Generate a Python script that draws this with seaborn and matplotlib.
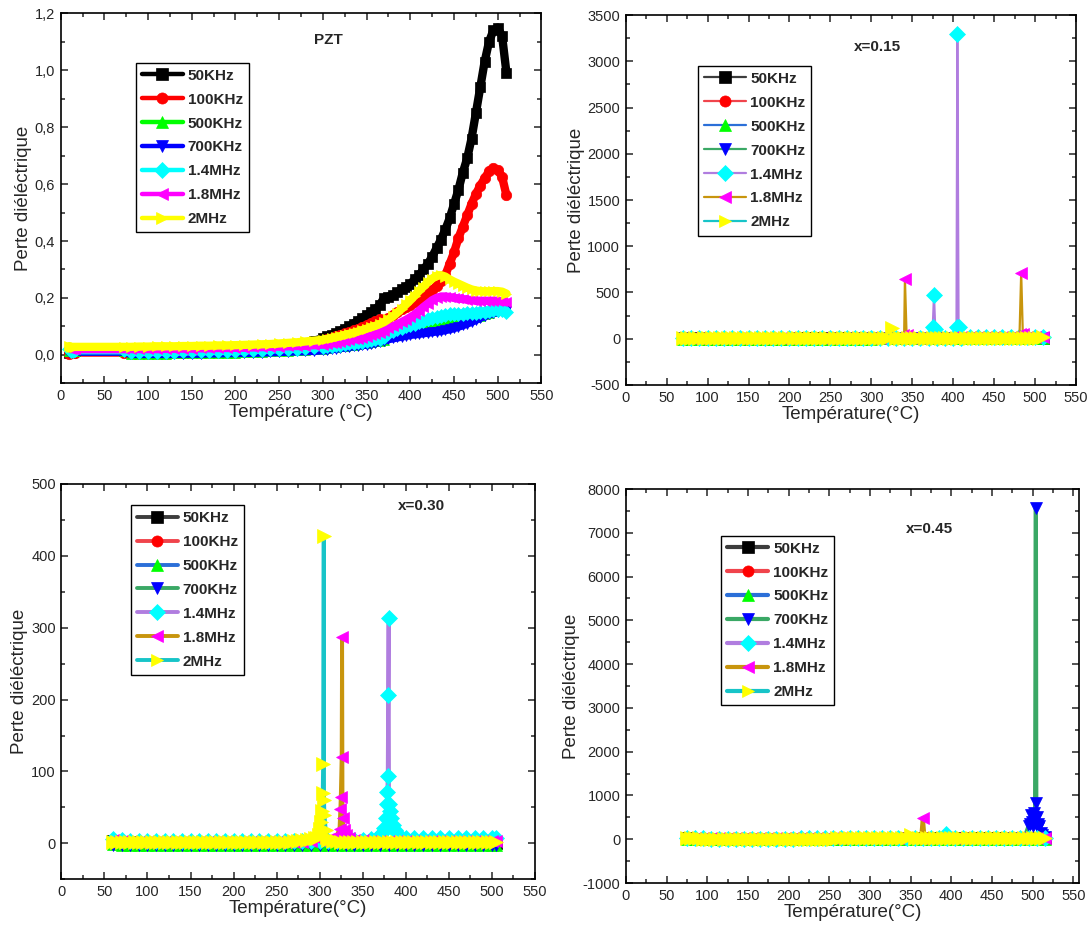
import pandas as pd
import matplotlib
matplotlib.use("Agg")
import matplotlib.pyplot as plt
from matplotlib.ticker import MultipleLocator, FuncFormatter
import seaborn as sns

# ---------------- data ----------------
freqs = ["50KHz", "100KHz", "500KHz", "700KHz", "1.4MHz", "1.8MHz", "2MHz"]
markers = ["s", "o", "^", "v", "D", "<", ">"]
marker_colors = ["#000000", "#ff0000", "#00ff00", "#0000ff", "#00ffff", "#ff00ff", "#ffff00"]
origin_line_colors = ["#3d3d3d", "#f0444c", "#2b6fd8", "#3aa865", "#b07ddf", "#c8950d", "#17c4c8"]

# PZT panel
T_pzt = [10, 12, 14, 16, 73,
         80, 90, 100, 110, 120, 130, 140, 150, 160, 170, 180, 190, 200, 210, 220, 230, 240, 250,
         260, 270, 280, 290, 300,
         305, 310, 315, 320, 325, 330, 335, 340, 345, 350,
         355, 360, 365, 370, 375, 380, 385, 390, 395, 400,
         405, 410, 415, 420, 425, 430, 435, 440, 445, 450,
         455, 460, 465, 470, 475, 480, 485, 490, 495, 500,
         505, 510]
pzt_50k = [0.006, 0.008, 0.010, 0.012, 0.012,
           0.012, 0.013, 0.014, 0.015, 0.016, 0.017, 0.018, 0.019, 0.020, 0.021, 0.022, 0.023, 0.024,
           0.025, 0.026, 0.027, 0.029, 0.031, 0.034, 0.038, 0.043, 0.050, 0.058,
           0.065, 0.070, 0.077, 0.085, 0.092, 0.100, 0.110, 0.120, 0.130, 0.140,
           0.150, 0.160, 0.175, 0.200, 0.205, 0.210, 0.220, 0.230, 0.240, 0.250,
           0.265, 0.280, 0.300, 0.320, 0.345, 0.375, 0.405, 0.440, 0.480, 0.530,
           0.580, 0.640, 0.690, 0.760, 0.850, 0.940, 1.030, 1.100, 1.140, 1.150,
           1.120, 0.990]
pzt_100k = [0.004, 0.006, 0.006, 0.008, 0.008,
            0.006, 0.006, 0.006, 0.007, 0.007, 0.008, 0.008, 0.009, 0.010, 0.011, 0.012, 0.013, 0.014,
            0.016, 0.018, 0.020, 0.022, 0.024, 0.027, 0.031, 0.036, 0.042, 0.050,
            0.055, 0.060, 0.065, 0.070, 0.075, 0.080, 0.086, 0.092, 0.098, 0.105,
            0.112, 0.120, 0.125, 0.115, 0.130, 0.140, 0.150, 0.160, 0.167, 0.175,
            0.185, 0.195, 0.205, 0.215, 0.228, 0.243, 0.260, 0.280, 0.320, 0.360,
            0.410, 0.450, 0.490, 0.530, 0.565, 0.595, 0.620, 0.645, 0.655, 0.650,
            0.625, 0.560]
pzt_500k = [0.012, 0.012, 0.012, 0.012, 0.012,
            0.004, 0.004, 0.004, 0.004, 0.004, 0.005, 0.005, 0.005, 0.006, 0.006, 0.007, 0.007, 0.008,
            0.009, 0.010, 0.011, 0.012, 0.013, 0.014, 0.016, 0.018, 0.020, 0.022,
            0.024, 0.026, 0.028, 0.030, 0.032, 0.034, 0.036, 0.038, 0.040, 0.042,
            0.045, 0.048, 0.050, 0.053, 0.070, 0.075, 0.078, 0.082, 0.086, 0.090,
            0.093, 0.095, 0.098, 0.100, 0.102, 0.104, 0.106, 0.108, 0.110, 0.113,
            0.117, 0.121, 0.125, 0.129, 0.133, 0.138, 0.143, 0.148, 0.155, 0.160,
            0.163, 0.165]
pzt_700k = [0.010, 0.010, 0.011, 0.011, 0.011,
            0.003, 0.003, 0.003, 0.003, 0.003, 0.003, 0.004, 0.004, 0.004, 0.005, 0.005, 0.006, 0.006,
            0.007, 0.007, 0.008, 0.009, 0.010, 0.011, 0.012, 0.013, 0.014, 0.016,
            0.018, 0.020, 0.022, 0.024, 0.026, 0.028, 0.030, 0.032, 0.034, 0.036,
            0.039, 0.042, 0.046, 0.050, 0.055, 0.058, 0.061, 0.064, 0.067, 0.070,
            0.072, 0.074, 0.076, 0.078, 0.080, 0.082, 0.084, 0.087, 0.090, 0.094,
            0.099, 0.104, 0.110, 0.116, 0.123, 0.130, 0.136, 0.142, 0.147, 0.150,
            0.153, 0.155]
pzt_14m = [0.020, 0.015, 0.015, 0.016, 0.016,
           0.010, 0.010, 0.010, 0.010, 0.011, 0.011, 0.012, 0.012, 0.013, 0.013, 0.014, 0.014, 0.015,
           0.016, 0.017, 0.018, 0.019, 0.020, 0.021, 0.022, 0.024, 0.026, 0.028,
           0.030, 0.032, 0.034, 0.036, 0.038, 0.040, 0.042, 0.044, 0.046, 0.048,
           0.051, 0.054, 0.057, 0.062, 0.078, 0.084, 0.090, 0.095, 0.100, 0.105,
           0.110, 0.115, 0.120, 0.125, 0.130, 0.134, 0.137, 0.140, 0.142, 0.143,
           0.144, 0.145, 0.146, 0.147, 0.148, 0.150, 0.152, 0.154, 0.156, 0.157,
           0.158, 0.150]
pzt_18m = [0.025, 0.020, 0.020, 0.020, 0.020,
           0.020, 0.020, 0.020, 0.020, 0.021, 0.021, 0.022, 0.022, 0.023, 0.023, 0.024, 0.024, 0.025,
           0.025, 0.026, 0.027, 0.028, 0.029, 0.030, 0.031, 0.032, 0.034, 0.036,
           0.038, 0.040, 0.042, 0.045, 0.048, 0.051, 0.054, 0.057, 0.060, 0.064,
           0.068, 0.073, 0.078, 0.085, 0.095, 0.100, 0.107, 0.115, 0.123, 0.132,
           0.142, 0.155, 0.168, 0.180, 0.192, 0.200, 0.205, 0.205, 0.203, 0.200,
           0.198, 0.196, 0.194, 0.192, 0.190, 0.190, 0.190, 0.190, 0.190, 0.190,
           0.188, 0.185]
pzt_2m = [0.030, 0.028, 0.028, 0.028, 0.028,
          0.028, 0.029, 0.029, 0.030, 0.030, 0.030, 0.031, 0.031, 0.032, 0.032, 0.033, 0.033, 0.034,
          0.035, 0.036, 0.037, 0.038, 0.040, 0.042, 0.044, 0.047, 0.050, 0.053,
          0.056, 0.059, 0.062, 0.066, 0.070, 0.074, 0.078, 0.082, 0.087, 0.092,
          0.097, 0.102, 0.108, 0.115, 0.125, 0.135, 0.148, 0.162, 0.177, 0.192,
          0.208, 0.225, 0.240, 0.255, 0.268, 0.278, 0.280, 0.275, 0.265, 0.257,
          0.250, 0.243, 0.236, 0.230, 0.226, 0.224, 0.223, 0.223, 0.224, 0.224,
          0.222, 0.215]

# x=0.15 panel: baseline every 10 degC (2MHz every 5 degC) plus spike points
T_015 = [70, 80, 90, 100, 110, 120, 130, 140, 150, 160, 170, 180, 190, 200, 210,
         220, 230, 240, 250, 260, 270, 280, 290, 300, 310, 320, 330, 340, 350, 360,
         370, 380, 390, 400, 410, 420, 430, 440, 450, 460, 470, 480, 490, 500, 510]
T_015_fine = [70, 75, 80, 85, 90, 95, 100, 105, 110, 115,
              120, 125, 130, 135, 140, 145, 150, 155, 160, 165,
              170, 175, 180, 185, 190, 195, 200, 205, 210, 215,
              220, 225, 230, 235, 240, 245, 250, 255, 260, 265,
              270, 275, 280, 285, 290, 295, 300, 305, 310, 315,
              320, 325, 330, 335, 340, 345, 350, 355, 360, 365,
              370, 375, 380, 385, 390, 395, 400, 405, 410, 415,
              420, 425, 430, 435, 440, 445, 450, 455, 460, 465,
              470, 475, 480, 485, 490, 495, 500, 505, 510]
x015_50k = [4, 3, 3, 2, 2, 2, 2, 2, 2, 2, 2, 2, 2, 2, 3, 3, 3, 3, 3, 3, 3, 3, 3, 4, 4,
            4, 4, 4, 5, 5, 5, 6, 6, 6, 7, 7, 8, 8, 9, 9, 10, 10, 11, 12, 12]
x015_100k = [6, 5, 4, 4, 3, 3, 3, 3, 3, 3, 3, 3, 3, 4, 4, 4, 4, 4, 4, 5, 5, 5, 5, 6, 6,
             6, 6, 7, 7, 7, 8, 8, 9, 9, 10, 10, 11, 11, 12, 13, 13, 14, 15, 15, 16]
x015_500k = [2, 2, 1, 1, 1, 1, 1, 1, 1, 1, 1, 1, 1, 1, 1, 2, 2, 2, 2, 2, 2, 2, 2, 2, 3,
             3, 3, 3, 3, 3, 4, 4, 4, 4, 5, 5, 5, 5, 6, 6, 6, 7, 7, 7, 8]
x015_700k = [3, 2, 2, 2, 2, 1, 1, 1, 1, 1, 1, 1, 1, 2, 2, 2, 2, 2, 2, 2, 2, 3, 3, 3, 3,
             3, 3, 4, 4, 4, 4, 5, 5, 5, 6, 6, 6, 7, 7, 7, 8, 8, 9, 9, 10]
x015_14m = [8, 6, 5, 5, 4, 4, 4, 4, 4, 4, 4, 4, 4, 5, 5, 5, 5, 5, 5, 6, 6, 6, 6, 7, 7,
            7, 8, 8, 9, 9, 10, 12, 11, 12, 13, 14, 14, 15, 15, 16, 17, 17, 18, 19, 20]
x015_18m = [10, 8, 7, 6, 6, 6, 6, 6, 6, 6, 6, 6, 7, 7, 7, 7, 7, 8, 8, 8, 8, 9, 9, 9, 10,
            10, 10, 11, 11, 12, 12, 13, 13, 14, 14, 15, 15, 16, 17, 17, 18, 19, 20, 21, 22]
x015_2m = [7, 7, 6, 6, 5, 5, 5, 5, 5, 5,
           5, 5, 5, 5, 5, 5, 5, 5, 5, 5,
           5, 5, 5, 5, 5, 5, 5, 5, 5, 6,
           6, 6, 6, 6, 6, 6, 6, 6, 6, 6,
           6, 6, 6, 7, 7, 7, 7, 7, 7, 7,
           7, 120, 8, 8, 8, 8, 8, 8, 8, 8,
           9, 9, 9, 9, 9, 9, 10, 10, 10, 10,
           10, 10, 11, 11, 11, 11, 11, 11, 12, 12,
           12, 12, 12, 12, 13, 13, 13, 13, 14]
x015_spike_14m_T = [375, 376.5, 378, 404, 405, 406.5]
x015_spike_14m = [125, 470, 110, 125, 3300, 125]
x015_spike_18m_T = [339, 341, 343, 481, 483, 485]
x015_spike_18m = [40, 650, 45, 55, 710, 50]

# x=0.30 panel
T_030 = [60, 70, 80, 90, 100, 110, 120, 130, 140, 150, 160, 170, 180, 190, 200,
         210, 220, 230, 240, 250, 260, 270, 280, 290, 300, 310, 320, 330, 340, 350,
         360, 370, 380, 390, 400, 410, 420, 430, 440, 450, 460, 470, 480, 490, 500, 505]
T_030_fine = [60, 65, 70, 75, 80, 85, 90, 95, 100, 105,
              110, 115, 120, 125, 130, 135, 140, 145, 150, 155,
              160, 165, 170, 175, 180, 185, 190, 195, 200, 205,
              210, 215, 220, 225, 230, 235, 240, 245, 250, 255,
              260, 265, 270, 275, 280, 285, 290, 295, 300, 305,
              310, 315, 320, 325, 330, 335, 340, 345, 350, 355,
              360, 365, 370, 375, 380, 385, 390, 395, 400, 405,
              410, 415, 420, 425, 430, 435, 440, 445, 450, 455,
              460, 465, 470, 475, 480, 485, 490, 495, 500, 505]
x030_50k = [3, 2, 2, 1, 1, 1, 1, 1, 1, 1, 1, 1, 1, 1, 1, 1, 1, 1, 1, 1, 1, 1, 1, 1, 1,
            1, 1, 1, 1, 1, 1, 1, 1, 1, 1, 1, 1, 1, 1, 1, 1, 1, 1, 1, 1, 1]
x030_100k = [2, 2, 1, 1, 1, 1, 1, 1, 1, 1, 1, 1, 1, 1, 1, 1, 1, 1, 1, 1, 1, 1, 1, 1, 2,
             1, 1, 1, 1, 1, 1, 1, 1, 1, 1, 1, 1, 1, 1, 1, 1, 1, 1, 1, 1, 1]
x030_500k = [-1, -2, -2, -2, -2, -2, -2, -2, -2, -2, -2, -2, -2, -2, -2, -2, -2, -2, -2, -2,
             -2, -2, -2, -2, -2, -2, -2, -2, -2, -2, -2, -2, -2, -2, -2, -2, -2, -2, -2, -2,
             -2, -2, -2, -2, -2, -2]
x030_700k = [-2, -3, -3, -3, -3, -3, -3, -3, -3, -3, -3, -3, -3, -3, -3, -3, -3, -3, -3, -3,
             -3, -3, -3, -3, -3, -3, -3, -3, -3, -3, -3, -3, -3, -3, -3, -3, -3, -3, -3, -3,
             -3, -3, -3, -3, -3, -3]
x030_14m = [6, 4, 3, 3, 3, 3, 3, 3, 3, 3, 3, 3, 3, 3, 3, 3, 3, 3, 3, 3, 3, 3, 3, 3, 3,
            3, 3, 4, 4, 5, 6, 12, 313, 14, 8, 7, 7, 7, 7, 7, 7, 8, 8, 8, 8, 7]
x030_18m = [4, 3, 2, 2, 2, 2, 2, 2, 2, 2, 2, 2, 2, 2, 2, 2, 2, 2, 2, 2, 2, 2, 2, 3, 4,
            6, 12, 12, 5, 4, 3, 3, 3, 3, 3, 3, 3, 3, 3, 3, 3, 3, 3, 3, 3, 3]
x030_2m = [2, 2, 2, 2, 2, 2, 2, 2, 2, 2,
           2, 2, 2, 2, 2, 2, 2, 2, 2, 2,
           2, 2, 2, 2, 2, 2, 2, 2, 2, 2,
           2, 2, 2, 2, 2, 2, 2, 2, 2, 2,
           2, 2, 3, 3, 4, 5, 6, 8, 20, 60,
           5, 3, 3, 2, 2, 2, 2, 2, 2, 2,
           2, 2, 2, 2, 2, 2, 2, 2, 2, 2,
           2, 2, 2, 2, 2, 2, 2, 2, 2, 2,
           2, 2, 2, 2, 2, 2, 2, 2, 2, 2]
x030_spike_14m_T = [372, 375, 377, 378, 378.5, 379, 379.5, 380.5, 381.5, 383, 385, 387]
x030_spike_14m = [15, 22, 35, 55, 72, 93, 207, 55, 45, 35, 25, 18]
x030_spike_18m_T = [319, 323, 324, 324.5, 325.5, 326, 326.5, 328, 334]
x030_spike_18m = [8, 20, 48, 65, 120, 287, 35, 18, 8]
x030_spike_2m_T = [297, 299, 302, 303, 303.5, 304, 304.7, 305.5, 307, 309]
x030_spike_2m = [8, 12, 30, 45, 70, 110, 428, 40, 18, 9]

# x=0.45 panel
T_045 = [75, 85, 95, 105, 115, 125, 135, 145, 155, 165, 175, 185, 195, 205, 215,
         225, 235, 245, 255, 265, 275, 285, 295, 305, 315, 325, 335, 345, 355, 365,
         375, 385, 395, 405, 415, 425, 435, 445, 455, 465, 475, 485, 495, 505, 515]
T_045_fine = [75, 80, 85, 90, 95, 100, 105, 110, 115, 120,
              125, 130, 135, 140, 145, 150, 155, 160, 165, 170,
              175, 180, 185, 190, 195, 200, 205, 210, 215, 220,
              225, 230, 235, 240, 245, 250, 255, 260, 265, 270,
              275, 280, 285, 290, 295, 300, 305, 310, 315, 320,
              325, 330, 335, 340, 345, 350, 355, 360, 365, 370,
              375, 380, 385, 390, 395, 400, 405, 410, 415, 420,
              425, 430, 435, 440, 445, 450, 455, 460, 465, 470,
              475, 480, 485, 490, 495, 500, 505, 510, 515]
x045_50k = [20, 15, 12, 10, 10, 10, 10, 10, 10, 10, 10, 10, 10, 12, 12, 12, 12, 12, 12, 12,
            14, 14, 14, 14, 16, 16, 16, 18, 18, 18, 20, 20, 20, 22, 22, 24, 24, 26, 26, 28,
            28, 30, 30, 32, 30]
x045_100k = [25, 18, 15, 14, 14, 14, 14, 14, 14, 15, 15, 15, 15, 16, 16, 16, 16, 17, 17, 17,
             18, 18, 18, 19, 19, 20, 20, 21, 21, 22, 22, 23, 23, 24, 24, 25, 26, 27, 28, 29,
             30, 31, 32, 33, 30]
x045_500k = [10, 8, 6, 5, 5, 5, 5, 5, 5, 5, 5, 5, 5, 6, 6, 6, 6, 6, 6, 7, 7, 7, 7, 8, 8,
             8, 8, 9, 9, 9, 10, 10, 10, 11, 11, 12, 12, 13, 13, 14, 14, 15, 15, 16, 15]
x045_700k = [15, 10, 8, 7, 7, 7, 7, 7, 7, 7, 7, 7, 8, 8, 8, 8, 8, 9, 9, 9, 9, 10, 10, 10, 10,
             11, 11, 11, 12, 12, 12, 13, 13, 14, 14, 15, 15, 16, 16, 17, 18, 20, 300, 500, 60]
x045_14m = [30, 20, 18, 16, 16, 16, 16, 16, 16, 16, 17, 17, 17, 17, 18, 18, 18, 18, 19, 19,
            19, 20, 20, 20, 21, 21, 21, 22, 22, 23, 23, 24, 24, 25, 25, 26, 26, 27, 27, 28,
            28, 29, 29, 30, 30]
x045_18m = [35, 25, 20, 18, 18, 18, 18, 18, 18, 19, 19, 19, 19, 20, 20, 20, 20, 21, 21, 21,
            22, 22, 22, 23, 23, 24, 24, 25, 25, 480, 26, 26, 27, 27, 28, 28, 29, 29, 30, 30,
            31, 31, 32, 32, 33]
x045_2m = [25, 22, 20, 18, 17, 16, 16, 16, 16, 16,
           16, 16, 16, 16, 16, 16, 16, 16, 16, 16,
           16, 16, 16, 16, 16, 17, 17, 17, 17, 17,
           17, 17, 17, 17, 17, 17, 17, 18, 18, 18,
           18, 18, 18, 18, 18, 18, 18, 18, 19, 19,
           19, 19, 19, 19, 19, 100, 20, 20, 20, 20,
           20, 20, 21, 21, 21, 21, 21, 21, 22, 22,
           22, 22, 22, 22, 23, 23, 23, 23, 23, 23,
           24, 24, 24, 24, 24, 24, 25, 25, 25]
x045_spike_700k_T = [490, 497, 498, 499, 500, 501, 502, 503, 504, 504.5, 506, 507, 508, 510, 512]
x045_spike_700k = [40, 350, 550, 400, 300, 500, 600, 450, 7560, 820, 350, 250, 300, 150, 100]
x045_spike_14m_T = [393]
x045_spike_14m = [120]
x045_spike_18m_T = [363, 367]
x045_spike_18m = [30, 40]


def draw_panel(ax, temps, values, spikes, line_colors, lw, ms, fine=None):
    for i, name in enumerate(freqs):
        sx, sy = spikes.get(name, ([], []))
        use_fine = fine is not None and name == "2MHz"
        tx = fine if use_fine else temps
        df = pd.DataFrame({"T": list(tx) + list(sx), "loss": list(values[i]) + list(sy)})
        sns.lineplot(data=df, x="T", y="loss", ax=ax, estimator=None, sort=True,
                     color=line_colors[i], linewidth=lw, marker=markers[i],
                     markersize=ms + (1.5 if use_fine else 0),
                     markerfacecolor=marker_colors[i],
                     markeredgecolor=marker_colors[i], markeredgewidth=0.5, label=name)


def style_axes(ax, ylim, ymaj, ymin, xlim=(0, 550), comma=False):
    ax.set_xlim(*xlim)
    ax.set_ylim(*ylim)
    ax.xaxis.set_major_locator(MultipleLocator(50))
    ax.xaxis.set_minor_locator(MultipleLocator(25))
    ax.yaxis.set_major_locator(MultipleLocator(ymaj))
    ax.yaxis.set_minor_locator(MultipleLocator(ymin))
    if comma:
        ax.yaxis.set_major_formatter(FuncFormatter(lambda v, p: f"{v:.1f}".replace(".", ",")))
    ax.tick_params(which="both", direction="in", top=True, right=True, labelsize=10.5,
                   width=1.1, pad=4)
    ax.tick_params(which="major", length=5)
    ax.tick_params(which="minor", length=3)
    for s in ax.spines.values():
        s.set_linewidth(1.2)
        s.set_color("black")


def add_legend(ax, anchor, handle_lw=None):
    handles, labels = ax.get_legend_handles_labels()
    leg = ax.legend(handles, labels, loc="upper left", bbox_to_anchor=anchor,
                    borderaxespad=0, frameon=True, fancybox=False, framealpha=1,
                    edgecolor="black", prop={"weight": "bold", "size": 11},
                    handlelength=2.7, labelspacing=0.65, borderpad=0.4, handletextpad=0.3)
    leg.get_frame().set_linewidth(1.0)
    for ln in leg.get_lines():
        ln.set_markersize(8)
        if handle_lw is not None:
            ln.set_linewidth(handle_lw)


sns.set_style("ticks")
plt.rcParams["font.family"] = ["Liberation Sans", "DejaVu Sans"]
plt.rcParams["axes.unicode_minus"] = False

fig = plt.figure(figsize=(10.89, 9.39), dpi=100)
ax1 = fig.add_axes([0.0557, 0.5918, 0.4415, 0.394])
ax2 = fig.add_axes([0.5746, 0.5900, 0.4135, 0.394])
ax3 = fig.add_axes([0.0563, 0.0636, 0.4350, 0.421])
ax4 = fig.add_axes([0.5748, 0.0596, 0.4160, 0.4196])

# PZT
draw_panel(ax1, T_pzt, [pzt_50k, pzt_100k, pzt_500k, pzt_700k, pzt_14m, pzt_18m, pzt_2m],
           {}, marker_colors, 6.0, 7.5)
style_axes(ax1, (-0.1, 1.2), 0.2, 0.1, comma=True)
add_legend(ax1, (0.156, 0.867), handle_lw=3.2)
ax1.text(0.557, 0.928, "PZT", transform=ax1.transAxes, ha="center", va="center",
         fontsize=11, fontweight="bold")
ax1.set_xlabel("Température (°C)", fontsize=13.5, labelpad=1)
ax1.set_ylabel("Perte diéléctrique", fontsize=13.5, labelpad=2)

# x=0.15
draw_panel(ax2, T_015, [x015_50k, x015_100k, x015_500k, x015_700k, x015_14m, x015_18m, x015_2m],
           {"1.4MHz": (x015_spike_14m_T, x015_spike_14m),
            "1.8MHz": (x015_spike_18m_T, x015_spike_18m)},
           origin_line_colors, 1.6, 8, fine=T_015_fine)
style_axes(ax2, (-500, 3500), 500, 250)
add_legend(ax2, (0.161, 0.863))
ax2.text(0.558, 0.914, "x=0.15", transform=ax2.transAxes, ha="center", va="center",
         fontsize=11, fontweight="bold")
ax2.set_xlabel("Température(°C)", fontsize=13.5, labelpad=1)
ax2.set_ylabel("Perte diéléctrique", fontsize=13.5, labelpad=2)

# x=0.30
draw_panel(ax3, T_030, [x030_50k, x030_100k, x030_500k, x030_700k, x030_14m, x030_18m, x030_2m],
           {"1.4MHz": (x030_spike_14m_T, x030_spike_14m),
            "1.8MHz": (x030_spike_18m_T, x030_spike_18m),
            "2MHz": (x030_spike_2m_T, x030_spike_2m)},
           origin_line_colors, 2.8, 8, fine=T_030_fine)
style_axes(ax3, (-50, 500), 100, 50)
add_legend(ax3, (0.1465, 0.947))
ax3.text(0.761, 0.943, "x=0.30", transform=ax3.transAxes, ha="center", va="center",
         fontsize=11, fontweight="bold")
ax3.set_xlabel("Température(°C)", fontsize=13.5, labelpad=1)
ax3.set_ylabel("Perte diéléctrique", fontsize=13.5, labelpad=2)

# x=0.45
draw_panel(ax4, T_045, [x045_50k, x045_100k, x045_500k, x045_700k, x045_14m, x045_18m, x045_2m],
           {"700KHz": (x045_spike_700k_T, x045_spike_700k),
            "1.4MHz": (x045_spike_14m_T, x045_spike_14m),
            "1.8MHz": (x045_spike_18m_T, x045_spike_18m)},
           origin_line_colors, 3.0, 8, fine=T_045_fine)
style_axes(ax4, (-1000, 8000), 1000, 500, xlim=(0, 557))
add_legend(ax4, (0.21, 0.882))
ax4.text(0.671, 0.898, "x=0.45", transform=ax4.transAxes, ha="center", va="center",
         fontsize=11, fontweight="bold")
ax4.set_xlabel("Température(°C)", fontsize=13.5, labelpad=1)
ax4.set_ylabel("Perte diéléctrique", fontsize=13.5, labelpad=2)

fig.savefig("out.png", dpi=100)
